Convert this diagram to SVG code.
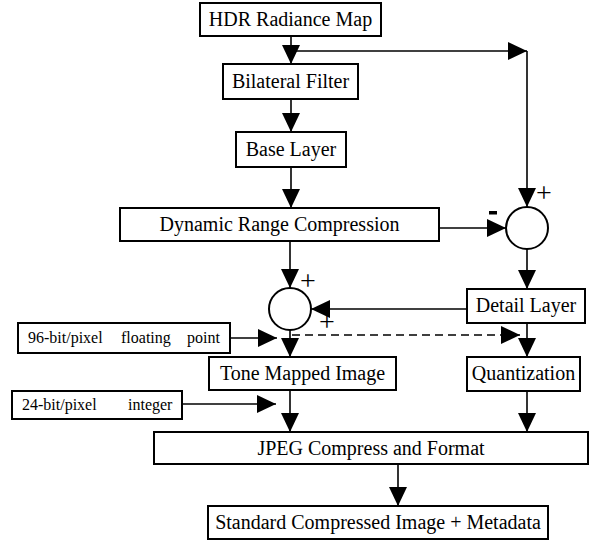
<svg xmlns="http://www.w3.org/2000/svg" width="596" height="540" viewBox="0 0 596 540">
<style>
.box{fill:#fff;stroke:#000;stroke-width:2}
.t{font-family:"Liberation Serif","Times New Roman",serif;font-size:20px;fill:#000;text-anchor:middle}
.s{font-family:"Liberation Serif","Times New Roman",serif;font-size:16px;fill:#000}
.c{fill:none;stroke:#000;stroke-width:1.6}
.d{fill:none;stroke:#000;stroke-width:1.6;stroke-dasharray:8 5}
.sign{font-family:"Liberation Serif","Times New Roman",serif;font-size:28px;fill:#000;text-anchor:middle}
</style>
<defs>
<marker id="ah" markerUnits="userSpaceOnUse" markerWidth="20" markerHeight="18" refX="19" refY="9" orient="auto" viewBox="0 0 20 18">
<path d="M0,0 L19,9 L0,18 z" fill="#000"/>
</marker>
</defs>
<g id="connectors">
<path class="c" d="M291,36 V64" marker-end="url(#ah)"/>
<path class="c" d="M291,51 H527" marker-end="url(#ah)"/>
<path class="c" d="M527,51 V207" marker-end="url(#ah)"/>
<path class="c" d="M291,99 V132" marker-end="url(#ah)"/>
<path class="c" d="M291,167 V208" marker-end="url(#ah)"/>
<path class="c" d="M439,228 H506" marker-end="url(#ah)"/>
<path class="c" d="M527,249 V289" marker-end="url(#ah)"/>
<path class="c" d="M467,309 H311" marker-end="url(#ah)"/>
<path class="c" d="M290,241 V288" marker-end="url(#ah)"/>
<path class="c" d="M290,330 V357" marker-end="url(#ah)"/>
<path class="c" d="M230,338 H277" marker-end="url(#ah)"/>
<path class="d" d="M292,335 H520" marker-end="url(#ah)"/>
<path class="c" d="M527,323 V357" marker-end="url(#ah)"/>
<path class="c" d="M290,390 V432" marker-end="url(#ah)"/>
<path class="c" d="M182,404 H276" marker-end="url(#ah)"/>
<path class="c" d="M527,391 V432" marker-end="url(#ah)"/>
<path class="c" d="M398,464 V506" marker-end="url(#ah)"/>
</g>
<g id="hdr"><rect class="box" x="200" y="3" width="181" height="33"/><text class="t" x="290.5" y="26">HDR Radiance Map</text></g>
<g id="bilateral"><rect class="box" x="223" y="64" width="135" height="35"/><text class="t" x="290.5" y="88">Bilateral Filter</text></g>
<g id="base"><rect class="box" x="236" y="132" width="110" height="35"/><text class="t" x="291" y="156">Base Layer</text></g>
<g id="drc"><rect class="box" x="120" y="208" width="319" height="33"/><text class="t" x="279.5" y="231">Dynamic Range Compression</text></g>
<g id="diff"><circle cx="527" cy="228" r="21" fill="#fff" stroke="#000" stroke-width="2"/><text class="sign" x="544" y="202">+</text><rect x="489" y="211" width="8" height="3.5" fill="#000"/></g>
<g id="detail"><rect class="box" x="467" y="289" width="118" height="34"/><text class="t" x="526" y="312">Detail Layer</text></g>
<g id="sum"><circle cx="290" cy="309" r="21" fill="#fff" stroke="#000" stroke-width="2"/><text class="sign" x="308" y="290">+</text><text class="sign" x="327" y="331">+</text></g>
<g id="float"><rect class="box" x="18" y="323" width="212" height="30"/><text class="s" x="28" y="343">96-bit/pixel</text><text class="s" x="121" y="343">floating</text><text class="s" x="187" y="343">point</text></g>
<g id="tone"><rect class="box" x="209" y="357" width="187" height="33"/><text class="t" x="302.5" y="380">Tone Mapped Image</text></g>
<g id="quant"><rect class="box" x="467" y="357" width="113" height="34"/><text class="t" x="523.5" y="380">Quantization</text></g>
<g id="int"><rect class="box" x="12" y="391" width="170" height="28"/><text class="s" x="22" y="410">24-bit/pixel</text><text class="s" x="128" y="410">integer</text></g>
<g id="jpeg"><rect class="box" x="154" y="432" width="434" height="32"/><text class="t" x="371" y="455">JPEG Compress and Format</text></g>
<g id="std"><rect class="box" x="208" y="506" width="340" height="33"/><text class="t" x="378" y="529">Standard Compressed Image + Metadata</text></g>
</svg>
